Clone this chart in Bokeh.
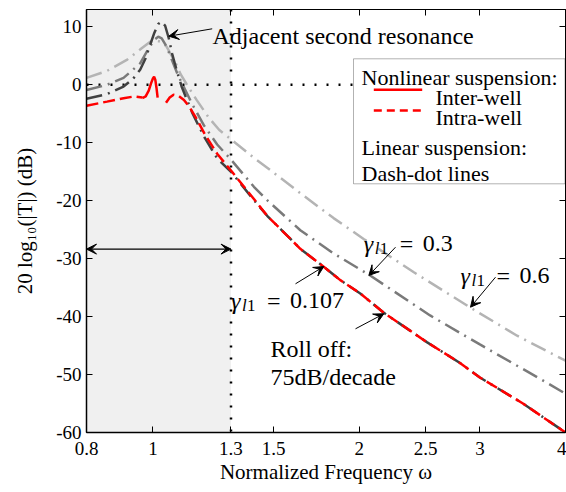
import math
from bokeh.plotting import figure
from bokeh.models import (Range1d, FixedTicker, LogAxis, LinearAxis, Label, Arrow,
                          VeeHead, BoxAnnotation, Span)
from bokeh.embed import file_html
from bokeh.resources import INLINE

# ---------------- data ----------------
x_ticks = [0.8, 1, 1.3, 1.5, 2, 2.5, 3, 4]
x_tick_labels = ["0.8", "1", "1.3", "1.5", "2", "2.5", "3", "4"]
y_ticks = [-60, -50, -40, -30, -20, -10, 0, 10]
y_tick_labels = ["-60", "-50", "-40", "-30", "-20", "-10", "0", "10"]

# linear suspension, gamma_l1 = 0.6 (light grey dash-dot)
w_g06 = [0.80, 0.857, 0.916, 0.963, 0.99, 1.007, 1.03, 1.047, 1.077, 1.098, 1.12, 1.158,
         1.207, 1.25, 1.30, 1.404, 1.468, 1.641, 1.835, 2.03, 2.4, 2.901, 3.4, 4.0]
db_g06 = [1.2, 2.4, 4.3, 6.3, 7.4, 7.7, 7.4, 6.6, 4.0, 1.8, 0.1, -2.6,
          -5.7, -7.8, -9.4, -12.6, -14.3, -18.7, -23.0, -26.6, -32.3, -38.4, -43.3, -47.6]

# gamma_l1 = 0.3 (mid grey dash-dot)
w_g03 = [0.80, 0.857, 0.906, 0.958, 0.985, 1.005, 1.018, 1.03, 1.047, 1.065, 1.085, 1.102,
         1.142, 1.187, 1.241, 1.30, 1.404, 1.468, 1.641, 1.835, 2.075, 2.538, 3.0, 3.73, 4.0]
db_g03 = [-0.9, 0.0, 1.2, 3.7, 6.2, 7.8, 8.3, 8.0, 6.6, 4.4, 2.0, 0.3,
          -3.4, -7.0, -10.3, -12.9, -17.6, -19.9, -25.1, -29.1, -32.9, -39.8, -44.8, -51.2, -53.3]

# gamma_l1 = 0.107 (dark grey dash-dot)
w_g0107 = [0.80, 0.857, 0.906, 0.935, 0.958, 0.975, 0.99, 1.005, 1.018, 1.03, 1.042, 1.055,
           1.067, 1.085, 1.102, 1.142, 1.187, 1.241, 1.30, 1.404, 1.468, 1.641, 1.775, 1.877,
           2.007, 2.17, 2.51, 2.806, 3.0, 3.467, 4.0]
db_g0107 = [-2.4, -1.6, -0.3, 1.0, 2.6, 4.5, 6.8, 9.0, 10.5, 10.9, 10.2, 8.0,
            5.3, 2.2, -0.4, -4.9, -8.9, -12.7, -15.0, -19.9, -22.6, -28.3, -31.4, -33.7,
            -36.0, -39.3, -44.4, -48.0, -50.5, -55.0, -60.0]

# nonlinear suspension: inter-well (solid red)
w_inter = [0.965, 0.976, 0.986, 0.994, 1.0, 1.004, 1.008, 1.012, 1.016]
db_inter = [-2.3, -2.0, -1.0, 0.3, 1.1, 1.4, 0.9, -0.5, -2.2]

# nonlinear suspension: intra-well (dashed red), two branches
w_intra_a = [0.80, 0.857, 0.906, 0.94, 0.965]
db_intra_a = [-3.6, -2.9, -2.3, -2.0, -2.2]
w_intra_b = [1.045, 1.058, 1.072, 1.09, 1.11, 1.13, 1.16, 1.19, 1.241, 1.30, 1.404, 1.468,
             1.641, 1.775, 1.877, 2.007, 2.17, 2.51, 2.806, 3.0, 3.467, 4.0]
db_intra_b = [-3.1, -2.2, -1.7, -1.9, -2.6, -3.8, -6.0, -8.5, -11.9, -14.8, -19.7, -22.6,
              -28.3, -31.4, -33.7, -36.0, -39.3, -44.4, -48.0, -50.5, -55.0, -60.0]

band_lo, band_hi = 0.8, 1.3
arrow_level = -28.35

# ---------------- layout ----------------
W, H = 566, 492
L, R, T, B = 86, 565, 9, 432
XMIN, XMAX, YMIN, YMAX = 0.8, 4.0, -60.0, 13.0


def X(px):
    return 10 ** (math.log10(XMIN) + (px - L) / (R - L) * math.log10(XMAX / XMIN))


def Y(py):
    return YMAX - (py - T) / (B - T) * (YMAX - YMIN)


FONT = "Liberation Serif"

p = figure(width=W, height=H, x_axis_type="log",
           x_range=Range1d(XMIN, XMAX), y_range=Range1d(YMIN, YMAX),
           output_backend="svg", toolbar_location=None,
           min_border_left=L, min_border_right=W - R, min_border_top=T,
           min_border_bottom=H - B)
p.grid.visible = False
p.outline_line_color = "black"
p.outline_line_width = 1
p.background_fill_color = "white"
p.border_fill_color = "white"

# axes
p.xaxis.ticker = FixedTicker(ticks=x_ticks, minor_ticks=[])
p.xaxis.major_label_overrides = dict(zip(x_ticks, x_tick_labels))
p.yaxis.ticker = FixedTicker(ticks=y_ticks, minor_ticks=[])
p.yaxis.major_label_overrides = dict(zip(y_ticks, y_tick_labels))
for ax in (p.xaxis[0], p.yaxis[0]):
    ax.major_tick_in = 6
    ax.major_tick_out = 0
    ax.minor_tick_in = 0
    ax.minor_tick_out = 0
    ax.axis_line_width = 1.5
    ax.major_tick_line_width = 1
    ax.major_label_text_font = FONT
    ax.major_label_text_font_size = "19px"
    ax.major_label_text_color = "black"
    ax.axis_label_text_font = FONT
    ax.axis_label_text_font_style = "normal"
    ax.axis_label_text_font_size = "21px"
    ax.axis_label_text_color = "black"
p.xaxis.major_label_standoff = 9
p.xaxis.axis_label_standoff = 2
p.yaxis.major_label_standoff = 5
p.yaxis.axis_label_standoff = 16
p.xaxis.axis_label = "Normalized Frequency \u03c9"
p.yaxis.axis_label = "20 log\u2081\u2080(|T|) (dB)"

top_ax = LogAxis(ticker=FixedTicker(ticks=x_ticks, minor_ticks=[]),
                 major_label_overrides={t: "" for t in x_ticks})
right_ax = LinearAxis(ticker=FixedTicker(ticks=y_ticks, minor_ticks=[]),
                      major_label_overrides={t: "" for t in y_ticks})
for ax in (top_ax, right_ax):
    ax.major_tick_in = 6
    ax.major_tick_out = 0
    ax.minor_tick_in = 0
    ax.minor_tick_out = 0
    ax.major_label_standoff = 0
    ax.axis_line_width = 1
p.add_layout(top_ax, "above")
p.add_layout(right_ax, "right")

# shaded band and dotted reference lines
p.add_layout(BoxAnnotation(left=band_lo, right=band_hi, fill_color="#f0f0f0",
                           fill_alpha=1, line_color=None, level="underlay"))
p.add_layout(Span(location=0, dimension="width", line_color="black",
                  line_width=2.5, line_dash="2 10", level="underlay"))
p.add_layout(Span(location=band_hi, dimension="height", line_color="black",
                  line_width=2.5, line_dash="2 10", level="underlay"))

# curves
DASHDOT = "16 6 2 6"
p.line(w_g06, db_g06, line_color="#b4b4b4", line_width=2.5, line_dash=DASHDOT)
p.line(w_g03, db_g03, line_color="#7a7a7a", line_width=2.5, line_dash=DASHDOT)
p.line(w_g0107, db_g0107, line_color="#404040", line_width=2.5, line_dash=DASHDOT)
p.line(w_intra_a, db_intra_a, line_color="red", line_width=2.5, line_dash="12 5")
p.line(w_intra_b, db_intra_b, line_color="red", line_width=2.5, line_dash="12 5")
p.line(w_inter, db_inter, line_color="red", line_width=2.5)


def head():
    return VeeHead(size=10, fill_color="black", line_color="black", line_width=1)


# double arrow over the band
p.add_layout(Arrow(start=head(), end=head(), x_start=band_lo, y_start=arrow_level,
                   x_end=band_hi, y_end=arrow_level, line_color="black", line_width=1.2))

# annotations


def label(px, py, text, size="24px", style="normal"):
    p.add_layout(Label(x=X(px), y=Y(py), text=text, text_font=FONT,
                       text_font_size=size, text_font_style=style,
                       text_baseline="alphabetic", text_align="left",
                       text_color="black"))


def pointer(px0, py0, px1, py1):
    p.add_layout(Arrow(end=head(), x_start=X(px0), y_start=Y(py0), x_end=X(px1),
                       y_end=Y(py1), line_color="black", line_width=1))


label(212, 35, "Adjacent second resonance")
pointer(211.7, 28.3, 168.3, 35.7)


def gamma_label(px, py, val):
    label(px, py, "\u03b3", "24px", "italic")
    label(px + 11, py + 5, "l", "17px", "italic")
    label(px + 16, py + 5, "1", "17px")
    label(px + 36, py, "=", "24px")
    label(px + 59, py, val, "24px")


gamma_label(230.5, 300, "0.107")
pointer(295, 283.3, 323.3, 266)
gamma_label(363.3, 243.3, "0.3")
pointer(395, 246.7, 368.3, 275)
gamma_label(460, 275, "0.6")
pointer(495, 276.7, 470, 306.7)

label(270, 348.3, "Roll off:")
label(270, 376.7, "75dB/decade")
pointer(355, 328.3, 383.3, 313.3)

# legend box
p.add_layout(BoxAnnotation(left=X(353), right=X(564.5), top=Y(58.3), bottom=Y(183.3),
                           fill_color="white", fill_alpha=1, line_color="black",
                           line_width=1))
label(361, 76.7, "Nonlinear suspension:", "22px")
p.add_layout(Arrow(end=None, x_start=X(373.3), y_start=Y(89.3), x_end=X(421.7),
                   y_end=Y(89.3), line_color="red", line_width=2.5))
label(435, 96.7, "Inter-well", "22px")
p.add_layout(Arrow(end=None, x_start=X(373.3), y_start=Y(110), x_end=X(421.7),
                   y_end=Y(110), line_color="red", line_width=2.5, line_dash="8 5"))
label(435, 116.7, "Intra-well", "22px")
label(361, 146.7, "Linear suspension:", "22px")
label(361, 173.3, "Dash-dot lines", "22px")

open("out.html", "w").write(file_html(p, INLINE))
